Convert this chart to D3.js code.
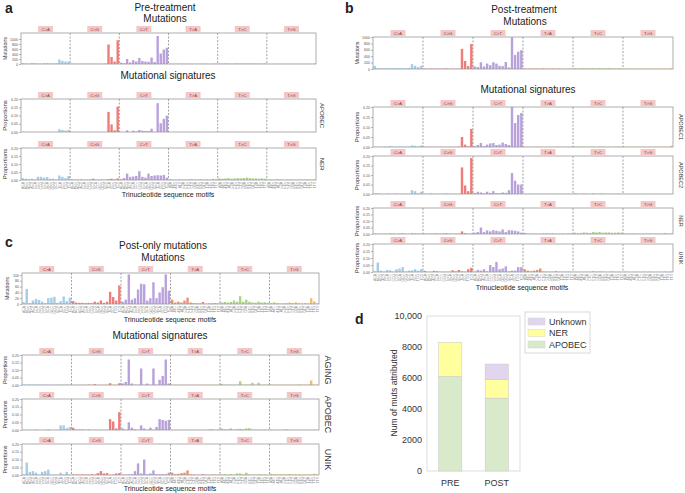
<!DOCTYPE html>
<html><head><meta charset="utf-8">
<script src="https://cdn.jsdelivr.net/npm/d3@7"></script>
<style>body{margin:0;background:#fff} svg{display:block} text{font-family:"Liberation Sans",Arial,sans-serif}</style>
</head><body><svg id="fig" width="685" height="493"></svg>
<script>
const mutTypes = ["C>A","C>G","C>T","T>A","T>C","T>G"];
const typeColors = ["#a6cde8","#ef7c78","#b9a2dc","#eb8f73","#a9d585","#f3bd6a"];
const bases = ["A","C","G","T"];
const sigTicks = [0, 0.05, 0.10, 0.15, 0.20];
const aMutTicks = [0, 200, 400, 600, 800, 1000];
const bMutTicks = [0, 200, 400, 600, 800, 1000];
const cMutTicks = [0, 20, 40, 60, 80, 100];

// ---- panel a ----
const aMut = [
 35,25,15,40,30,25,15,35,30,25,20,35,180,130,100,100,
 15,10,8,12,10,8,10,12,8,10,8,15,780,280,100,950,
 50,30,200,60,150,100,240,120,100,90,260,80,1120,420,580,650,
 15,10,10,15,10,8,10,12,10,8,10,12,10,8,10,15,
 20,15,25,20,15,20,30,20,25,15,20,20,25,15,20,20,
 8,6,8,10,6,5,8,10,8,6,8,10,8,6,8,20];
const aApobec = [
 0,0,0,0,0,0,0,0,0,0,0,0,0.017,0.012,0.008,0.012,
 0,0,0,0,0,0,0,0,0,0,0,0,0.122,0.046,0.01,0.154,
 0,0,0.01,0,0.008,0.004,0.012,0.008,0.006,0.006,0.02,0,0.175,0.053,0.08,0.099,
 0,0,0,0,0,0,0,0,0,0,0,0,0,0,0,0,
 0,0,0,0,0,0,0,0,0,0,0,0,0,0,0,0,
 0,0,0,0,0,0,0,0,0,0,0,0,0,0,0,0];
const aNer = [
 0.012,0.008,0.005,0.008,0.003,0.02,0.02,0.015,0.018,0.008,0.008,0.003,0.028,0.02,0.012,0.025,
 0.003,0.002,0.002,0.003,0.002,0.002,0.003,0.008,0.002,0.002,0.003,0.002,0.005,0.008,0.003,0.01,
 0.006,0.012,0.04,0.02,0.022,0.025,0.055,0.02,0.015,0.04,0.025,0.028,0.03,0.028,0.032,0.015,
 0.003,0.002,0.002,0.003,0.002,0.002,0.003,0.004,0.002,0.002,0.003,0.002,0.003,0.002,0.005,0.003,
 0.01,0.008,0.01,0.012,0.008,0.01,0.012,0.01,0.012,0.015,0.012,0.01,0.01,0.008,0.01,0.008,
 0.003,0.003,0.003,0.005,0.003,0.002,0.003,0.004,0.003,0.002,0.003,0.003,0.003,0.004,0.003,0.004];

// ---- panel b ----
const bMut = [
 100,30,25,30,25,30,25,30,25,30,25,30,150,100,60,100,
 15,10,12,15,10,12,15,20,10,12,10,15,630,250,90,780,
 80,60,210,80,170,120,210,170,100,90,220,50,990,440,540,590,
 15,10,12,15,10,12,20,12,10,12,10,15,10,12,10,12,
 20,15,20,25,15,20,25,20,25,20,20,25,20,15,20,15,
 10,8,10,12,8,6,10,12,10,8,10,12,8,10,8,20];
const bApobec1 = [
 0.002,0.001,0.001,0.002,0.002,0.005,0.002,0.002,0.002,0.002,0.002,0.002,0.008,0.006,0.003,0.008,
 0.001,0.001,0.001,0.001,0.001,0.001,0.001,0.001,0.001,0.001,0.001,0.002,0.05,0.012,0.003,0.09,
 0.004,0.01,0.02,0.005,0.012,0.018,0.02,0.01,0.012,0.022,0.015,0.01,0.25,0.12,0.16,0.17,
 0.001,0.001,0.001,0.001,0.001,0.001,0.001,0.001,0.001,0.001,0.001,0.001,0.001,0.001,0.001,0.001,
 0.002,0.002,0.001,0.002,0.001,0.002,0.002,0.001,0.002,0.002,0.001,0.002,0.001,0.001,0.002,0.001,
 0.001,0.001,0.001,0.001,0.001,0.001,0.001,0.001,0.001,0.001,0.001,0.001,0.001,0.001,0.001,0.006];
const bApobec2 = [
 0.002,0.004,0.001,0.001,0.003,0.001,0.001,0.003,0.001,0.001,0.002,0.001,0.02,0.015,0.004,0.012,
 0.001,0.001,0.002,0.001,0.001,0.001,0.001,0.002,0.001,0.001,0.001,0.001,0.14,0.045,0.015,0.19,
 0.005,0.012,0.008,0.004,0.012,0.006,0.015,0.005,0.004,0.008,0.006,0.02,0.11,0.07,0.05,0.05,
 0.001,0.001,0.001,0.001,0.001,0.001,0.001,0.001,0.001,0.001,0.001,0.001,0.001,0.001,0.001,0.001,
 0.004,0.002,0.001,0.003,0.001,0.001,0.004,0.001,0.002,0.003,0.001,0.002,0.001,0.001,0.002,0.001,
 0.001,0.001,0.001,0.001,0.001,0.001,0.001,0.001,0.001,0.001,0.001,0.001,0.001,0.001,0.001,0.001];
const bNer = [
 0.004,0.003,0.002,0.004,0.003,0.006,0.004,0.002,0.004,0.008,0.003,0.002,0.008,0.006,0.003,0.004,
 0.003,0.002,0.002,0.003,0.004,0.002,0.004,0.005,0.002,0.002,0.002,0.003,0.02,0.006,0.002,0.003,
 0.01,0.015,0.05,0.015,0.028,0.02,0.03,0.025,0.02,0.035,0.015,0.03,0.028,0.025,0.02,0.01,
 0.008,0.002,0.002,0.003,0.002,0.002,0.003,0.004,0.003,0.004,0.002,0.002,0.003,0.002,0.004,0.003,
 0.01,0.005,0.008,0.012,0.01,0.008,0.015,0.012,0.015,0.01,0.012,0.012,0.01,0.01,0.012,0.01,
 0.004,0.003,0.003,0.005,0.003,0.002,0.004,0.003,0.004,0.003,0.003,0.004,0.003,0.008,0.003,0.004];
const bUnik = [
 0.004,0.068,0.01,0.003,0.015,0.012,0.003,0.02,0.025,0.035,0.003,0.01,0.012,0.02,0.01,0.02,
 0.008,0.002,0.002,0.008,0.005,0.002,0.002,0.002,0.002,0.012,0.004,0.015,0.004,0.002,0.02,0.03,
 0.004,0.015,0.01,0.02,0.005,0.05,0.035,0.072,0.02,0.025,0.04,0.005,0.01,0.01,0.035,0.035,
 0.02,0.01,0.005,0.01,0.015,0.025,0.003,0.003,0.002,0.002,0.006,0.002,0.002,0.002,0.003,0.002,
 0.002,0.002,0.001,0.003,0.002,0.002,0.006,0.002,0.004,0.004,0.001,0.002,0.004,0.001,0.002,0.001,
 0.003,0.002,0.001,0.003,0.002,0.001,0.003,0.002,0.003,0.002,0.001,0.003,0.001,0.003,0.002,0.004];

// ---- panel c ----
const cMut = [
 6,52,3,12,18,14,8,3,20,22,25,4,10,26,10,22,
 10,5,4,4,3,4,3,8,5,12,4,8,42,24,12,64,
 8,15,102,15,20,50,70,68,12,20,75,20,40,58,102,46,
 15,5,8,5,12,22,5,3,2,2,7,1,2,2,3,2,
 5,7,5,7,12,8,27,8,15,8,5,4,8,5,6,4,
 3,6,3,2,2,3,5,3,6,3,2,3,2,20,9,2];
const cAging = [
 0.003,0.002,0.004,0.002,0.003,0.002,0.002,0.003,0.002,0.002,0.002,0.002,0.003,0.002,0.003,0.002,
 0.001,0.001,0.001,0.001,0.001,0.003,0.001,0.006,0.001,0.001,0.001,0.001,0.012,0.001,0.001,0.012,
 0.01,0.02,0.17,0.01,0.002,0.002,0.11,0.002,0.01,0.002,0.11,0.002,0.035,0.06,0.17,0.01,
 0.001,0.001,0.001,0.001,0.001,0.001,0.001,0.001,0.001,0.001,0.001,0.001,0.001,0.001,0.001,0.001,
 0.008,0.002,0.002,0.002,0.002,0.002,0.025,0.002,0.002,0.002,0.015,0.002,0.015,0.002,0.002,0.002,
 0.002,0.002,0.002,0.002,0.002,0.002,0.002,0.002,0.002,0.004,0.002,0.002,0.002,0.03,0.002,0.002];
const cApobec = [
 0.001,0.001,0.001,0.001,0.004,0.001,0.001,0.001,0.005,0.001,0.001,0.001,0.03,0.03,0.012,0.02,
 0.015,0.003,0.003,0.003,0.001,0.003,0.001,0.001,0.001,0.001,0.001,0.001,0.07,0.055,0.01,0.115,
 0.01,0.002,0.05,0.015,0.005,0.002,0.03,0.01,0.002,0.015,0.002,0.02,0.07,0.065,0.06,0.065,
 0.001,0.001,0.001,0.001,0.001,0.001,0.001,0.001,0.001,0.001,0.001,0.001,0.003,0.004,0.001,0.003,
 0.01,0.005,0.005,0.01,0.003,0.006,0.008,0.005,0.01,0.012,0.003,0.002,0.002,0.002,0.002,0.002,
 0.003,0.001,0.002,0.001,0.002,0.005,0.001,0.001,0.002,0.001,0.001,0.002,0.001,0.001,0.002,0.001];
const cUnik = [
 0.003,0.08,0.02,0.025,0.015,0.002,0.02,0.025,0.035,0.002,0.002,0.002,0.015,0.004,0.02,0.003,
 0.004,0.003,0.003,0.004,0.003,0.003,0.005,0.003,0.012,0.025,0.01,0.012,0.002,0.003,0.01,0.012,
 0.003,0.003,0.003,0.005,0.025,0.075,0.01,0.1,0.005,0.01,0.03,0.005,0.005,0.005,0.005,0.015,
 0.015,0.005,0.008,0.012,0.015,0.03,0.005,0.003,0.002,0.002,0.005,0.002,0.002,0.002,0.003,0.002,
 0.003,0.005,0.002,0.005,0.002,0.01,0.01,0.003,0.015,0.003,0.002,0.002,0.004,0.002,0.003,0.002,
 0.008,0.004,0.003,0.005,0.003,0.003,0.006,0.003,0.004,0.003,0.002,0.003,0.002,0.003,0.008,0.003];

// ---- panel d ----
const dCats = ["PRE","POST"];
const dApobec = [6100, 4700];
const dNer = [2200, 1200];
const dUnknown = [0, 1000];
const dTicks = [0, 2000, 4000, 6000, 8000, 10000];
const dKeys = ["APOBEC","NER","Unknown"];
const dColors = {APOBEC:"#d9eacb", NER:"#ffff9e", Unknown:"#e2d6ee"};

// trinucleotide labels
const contexts = [];
mutTypes.forEach(t => bases.forEach(b5 => bases.forEach(b3 => contexts.push(b5 + t[0] + b3))));

const svg = d3.select("#fig");
let clipN = 0;

function txt(x, y, s, size, opts = {}) {
  const t = svg.append("text").attr("x", x).attr("y", y).attr("font-size", size)
    .attr("text-anchor", opts.anchor || "middle").attr("fill", opts.fill || "#222").text(s);
  if (opts.bold) t.attr("font-weight", "bold");
  return t;
}

function spectrum(o) {
  const g = svg.append("g");
  const xg = d3.scaleBand().domain(mutTypes).range([o.x0, o.x1]);
  const xi = d3.scaleBand().domain(d3.range(16)).range([0, xg.bandwidth()]).paddingInner(0.22).paddingOuter(0.15);
  const y = d3.scaleLinear().domain([0, o.max]).range([o.y1, o.y0]);
  const id = "clip" + (clipN++);
  svg.append("clipPath").attr("id", id).append("rect")
    .attr("x", o.x0).attr("y", o.y0).attr("width", o.x1 - o.x0).attr("height", o.y1 - o.y0);
  const bx = i => xg(mutTypes[Math.floor(i / 16)]) + xi(i % 16);
  g.append("g").attr("clip-path", `url(#${id})`).selectAll("rect").data(o.vals).join("rect")
    .attr("x", (d, i) => bx(i)).attr("width", xi.bandwidth())
    .attr("y", d => y(d)).attr("height", d => y(0) - y(d))
    .attr("fill", (d, i) => typeColors[Math.floor(i / 16)]);
  g.selectAll("line.sep").data(mutTypes.slice(1)).join("line")
    .attr("x1", d => xg(d)).attr("x2", d => xg(d)).attr("y1", o.y0).attr("y2", o.y1)
    .attr("stroke", "#666").attr("stroke-width", 0.6).attr("stroke-dasharray", "2,1.5");
  g.append("rect").attr("x", o.x0).attr("y", o.y0).attr("width", o.x1 - o.x0).attr("height", o.y1 - o.y0)
    .attr("fill", "none").attr("stroke", "#9a9a9a").attr("stroke-width", 0.8);
  const sg = g.selectAll("g.strip").data(mutTypes).join("g")
    .attr("transform", d => `translate(${xg(d) + xg.bandwidth() / 2},${o.y0 - 7})`);
  sg.append("rect").attr("x", -7.5).attr("width", 15).attr("height", 6).attr("fill", "#f5c6c6");
  sg.append("text").attr("y", 4.5).attr("text-anchor", "middle").attr("font-size", 4.2)
    .attr("fill", "#8a3b3b").text(d => d);
  const ax = g.append("g").attr("transform", `translate(${o.x0},0)`)
    .call(d3.axisLeft(y).tickValues(o.ticks).tickSize(2).tickPadding(1).tickFormat(o.fmt));
  ax.select(".domain").remove();
  ax.selectAll("text").attr("font-size", 3.6).attr("fill", "#555");
  ax.selectAll("line").attr("stroke", "#777").attr("stroke-width", 0.5);
  g.append("text").attr("transform", `translate(${o.ylx},${(o.y0 + o.y1) / 2}) rotate(-90)`)
    .attr("text-anchor", "middle").attr("font-size", o.yls).attr("fill", "#333").text(o.ylab);
  if (o.row) g.append("text").attr("transform", `translate(${o.rx},${(o.y0 + o.y1) / 2}) rotate(90)`)
    .attr("text-anchor", "middle").attr("font-size", o.rs).attr("fill", "#333").text(o.row);
  if (o.xlab) g.selectAll("text.xl").data(contexts).join("text")
    .attr("transform", (d, i) => `translate(${bx(i) + xi.bandwidth() / 2 + 1.2},${o.y1 + 2}) rotate(-90)`)
    .attr("text-anchor", "end").attr("font-size", 3.4).attr("fill", "#8a8a8a").text(d => d);
}
const fmtInt = d3.format("d");
const fmtSig = d3.format(".2f");

// Panel a
txt(5, 13, "a", 14, {anchor: "start", bold: true});
txt(165, 11, "Pre-treatment", 10);
txt(165, 22, "Mutations", 10);
spectrum({x0: 21, x1: 316, y0: 33, y1: 64, vals: aMut, max: 1240, ticks: aMutTicks, fmt: fmtInt, ylab: "Mutations", ylx: 7, yls: 5.3});
txt(168, 79, "Mutational signatures", 10);
spectrum({x0: 21, x1: 316, y0: 99, y1: 132, vals: aApobec, max: 0.2, ticks: sigTicks, fmt: fmtSig, ylab: "Proportions", ylx: 7, yls: 6, row: "APOBEC", rx: 320, rs: 6});
spectrum({x0: 21, x1: 316, y0: 148, y1: 180, vals: aNer, max: 0.2, ticks: sigTicks, fmt: fmtSig, ylab: "Proportions", ylx: 7, yls: 6, row: "NER", rx: 320, rs: 6, xlab: true});
txt(168, 197, "Trinucleotide sequence motifs", 7);

// Panel b
txt(345, 13, "b", 14, {anchor: "start", bold: true});
txt(524, 13, "Post-treatment", 10);
txt(525, 25, "Mutations", 10);
spectrum({x0: 373, x1: 673, y0: 37, y1: 69, vals: bMut, max: 1000, ticks: bMutTicks, fmt: fmtInt, ylab: "Mutations", ylx: 359, yls: 5.3});
txt(528, 93, "Mutational signatures", 10);
spectrum({x0: 373, x1: 673, y0: 107, y1: 147, vals: bApobec1, max: 0.2, ticks: sigTicks, fmt: fmtSig, ylab: "Proportions", ylx: 359, yls: 6, row: "APOBEC1", rx: 679, rs: 5.5});
spectrum({x0: 373, x1: 673, y0: 156, y1: 194, vals: bApobec2, max: 0.2, ticks: sigTicks, fmt: fmtSig, ylab: "Proportions", ylx: 359, yls: 6, row: "APOBEC2", rx: 679, rs: 5.5});
spectrum({x0: 373, x1: 673, y0: 208, y1: 234, vals: bNer, max: 0.2, ticks: sigTicks, fmt: fmtSig, ylab: "Proportions", ylx: 359, yls: 6, row: "NER", rx: 679, rs: 5.5});
spectrum({x0: 373, x1: 673, y0: 244, y1: 272, vals: bUnik, max: 0.2, ticks: sigTicks, fmt: fmtSig, ylab: "Proportions", ylx: 359, yls: 6, row: "UNIK", rx: 679, rs: 5.5, xlab: true});
txt(522, 290, "Trinucleotide sequence motifs", 7);

// Panel c
txt(5, 247, "c", 14, {anchor: "start", bold: true});
txt(163, 249, "Post-only mutations", 10);
txt(163, 261, "Mutations", 10);
spectrum({x0: 22, x1: 319, y0: 273, y1: 304, vals: cMut, max: 107, ticks: cMutTicks, fmt: fmtInt, ylab: "Mutations", ylx: 9, yls: 5.3, xlab: true});
txt(170, 322, "Trinucleotide sequence motifs", 7);
txt(160, 339, "Mutational signatures", 10);
spectrum({x0: 22, x1: 319, y0: 355, y1: 385, vals: cAging, max: 0.2, ticks: sigTicks, fmt: fmtSig, ylab: "Proportions", ylx: 7, yls: 5.5, row: "AGING", rx: 325, rs: 9});
spectrum({x0: 22, x1: 319, y0: 399, y1: 430, vals: cApobec, max: 0.2, ticks: sigTicks, fmt: fmtSig, ylab: "Proportions", ylx: 7, yls: 5.5, row: "APOBEC", rx: 325, rs: 9});
spectrum({x0: 22, x1: 319, y0: 444, y1: 475, vals: cUnik, max: 0.2, ticks: sigTicks, fmt: fmtSig, ylab: "Proportions", ylx: 7, yls: 5.5, row: "UNIK", rx: 325, rs: 9, xlab: true});
txt(170, 491, "Trinucleotide sequence motifs", 7);

// Panel d
txt(355, 324, "d", 14, {anchor: "start", bold: true});
const dRows = dCats.map((c, i) => ({cat: c, APOBEC: dApobec[i], NER: dNer[i], Unknown: dUnknown[i]}));
const dStack = d3.stack().keys(dKeys)(dRows);
const dx = d3.scaleBand().domain(dCats).range([427, 520]).paddingInner(0.5).paddingOuter(0.25);
const dy = d3.scaleLinear().domain([0, 10000]).range([471, 316]);
svg.append("rect").attr("x", 427).attr("y", 316).attr("width", 93).attr("height", 155)
  .attr("fill", "none").attr("stroke", "#d4d4d4").attr("stroke-width", 0.8);
svg.append("g").selectAll("g").data(dStack).join("g").attr("fill", d => dColors[d.key])
  .selectAll("rect").data(d => d).join("rect")
  .attr("x", d => dx(d.data.cat)).attr("width", dx.bandwidth())
  .attr("y", d => dy(d[1])).attr("height", d => dy(d[0]) - dy(d[1]))
  .attr("stroke", "#c8c8c8").attr("stroke-width", 0.5);
const dax = svg.append("g").attr("transform", "translate(427,0)")
  .call(d3.axisLeft(dy).tickValues(dTicks).tickSize(0).tickPadding(5).tickFormat(d => d === 10000 ? "10,000" : String(d)));
dax.select(".domain").remove();
dax.selectAll("text").attr("font-size", 9).attr("fill", "#333");
const dxa = svg.append("g").attr("transform", "translate(0,471)")
  .call(d3.axisBottom(dx).tickSize(0).tickPadding(9));
dxa.select(".domain").remove();
dxa.selectAll("text").attr("font-size", 9).attr("fill", "#333");
svg.append("text").attr("transform", "translate(397,393) rotate(-90)").attr("text-anchor", "middle")
  .attr("font-size", 8.6).attr("fill", "#333").text("Num of muts attributed");
// legend
svg.append("rect").attr("x", 525).attr("y", 312).attr("width", 65).attr("height", 41)
  .attr("fill", "#fff").attr("stroke", "#cfcfcf").attr("stroke-width", 0.8);
const legKeys = ["Unknown", "NER", "APOBEC"];
const lg = svg.append("g").selectAll("g").data(legKeys).join("g")
  .attr("transform", (d, i) => `translate(528,${318 + i * 11.5})`);
lg.append("rect").attr("width", 17).attr("height", 7).attr("fill", d => dColors[d]).attr("stroke", "#ccc").attr("stroke-width", 0.4);
lg.append("text").attr("x", 21).attr("y", 6.5).attr("font-size", 9).attr("fill", "#333").text(d => d);
</script></body></html>
